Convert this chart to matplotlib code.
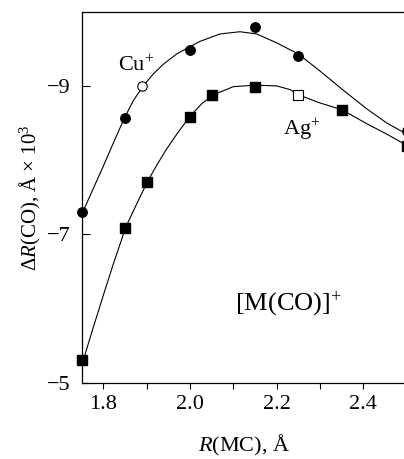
import matplotlib
matplotlib.use("Agg")
import matplotlib.pyplot as plt
from matplotlib.ticker import MultipleLocator

###DATA: ------------------------------------------------------------------------------------------------------
# Cu+ : gefuellte Kreise + ein offener Kreis
cu_x = [1.75, 1.85, 2.00, 2.15, 2.25, 2.50]
cu_y = [-7.30, -8.57, -9.49, -9.79, -9.40, -8.39]
cu_open_x = [1.89]
cu_open_y = [-9.00]

# Ag+ : gefuellte Quadrate + ein offenes Quadrat
ag_x = [1.75, 1.85, 1.90, 2.00, 2.05, 2.15, 2.35, 2.50]
ag_y = [-5.31, -7.09, -7.70, -8.58, -8.88, -8.98, -8.68, -8.19]
ag_open_x = [2.25]
ag_open_y = [-8.88]

# angepasste Kurven
cu_curve_x = [1.754, 1.777, 1.80, 1.823, 1.848, 1.869, 1.892, 1.915, 1.938, 1.969, 2.00,
              2.023, 2.069, 2.115, 2.154, 2.20, 2.25, 2.30, 2.354, 2.408, 2.454, 2.50]
cu_curve_y = [-7.32, -7.62, -7.92, -8.23, -8.56, -8.80, -9.00, -9.16, -9.29, -9.43, -9.53,
              -9.60, -9.70, -9.73, -9.70, -9.58, -9.43, -9.20, -8.94, -8.69, -8.50, -8.35]
ag_curve_x = [1.754, 1.777, 1.80, 1.823, 1.852, 1.877, 1.90, 1.923, 1.946, 1.973, 2.00,
              2.027, 2.054, 2.10, 2.15, 2.20, 2.231, 2.25, 2.30, 2.35, 2.408, 2.454, 2.50]
ag_curve_y = [-5.31, -5.75, -6.18, -6.60, -7.10, -7.41, -7.69, -7.93, -8.15, -8.38, -8.59,
              -8.76, -8.88, -8.99, -9.01, -9.00, -8.95, -8.88, -8.77, -8.68, -8.49, -8.35, -8.20]

x_major = [1.8, 2.0, 2.2, 2.4]
x_labels = ["1.8", "2.0", "2.2", "2.4"]
y_ticks = [-9, -7, -5]
y_labels = ["\u22129", "\u22127", "\u22125"]

###STYLE: -----------------------------------------------------------------------------------------------------
plt.rcParams["font.family"] = ["Liberation Serif", "DejaVu Serif"]
plt.rcParams["mathtext.fontset"] = "custom"
plt.rcParams["mathtext.rm"] = "Liberation Serif"
plt.rcParams["mathtext.it"] = "Liberation Serif:italic"

###PLOT: ------------------------------------------------------------------------------------------------------
fig = plt.figure(figsize=(4.04, 4.59), dpi=100)
ax = fig.add_axes([0.2022, 0.1662, 0.8045, 0.8083])

lw = 0.8
ax.plot(cu_curve_x, cu_curve_y, color="black", lw=lw)
ax.plot(ag_curve_x, ag_curve_y, color="black", lw=lw)

ax.plot(cu_x, cu_y, "o", color="black", ms=6.8, clip_on=False)
ax.plot(cu_open_x, cu_open_y, "o", mfc="white", mec="black", mew=0.8, ms=6.8)
ax.plot(ag_x, ag_y, "s", color="black", ms=7, clip_on=False)
ax.plot(ag_open_x, ag_open_y, "s", mfc="white", mec="black", mew=0.8, ms=7)

ax.text(1.834, -9.27, "Cu$^{+}$", fontsize=16, ha="left", va="center")
ax.text(2.215, -8.41, "Ag$^{+}$", fontsize=16, ha="left", va="center")
ax.text(2.104, -6.07, "[M(CO)]$^{+}$", fontsize=19, ha="left", va="center")

ax.set_xlim(1.75, 2.5)
ax.set_ylim(-5, -10)

ax.set_xticks(x_major)
ax.set_xticklabels(x_labels)
ax.xaxis.set_minor_locator(MultipleLocator(0.1))
ax.set_yticks(y_ticks)
ax.set_yticklabels(y_labels)

ax.tick_params(axis="x", which="both", direction="out", length=4, width=0.8, labelsize=16, pad=5)
ax.tick_params(axis="y", which="both", direction="in", length=6, width=0.8, labelsize=16, pad=8)

for s in ax.spines.values():
    s.set_linewidth(0.9)

ax.set_xlabel("$\\mathit{R}$(MC), Å", fontsize=16)
ax.xaxis.set_label_coords(0.5, -0.136)
ax.set_ylabel("Δ$\\mathit{R}$(CO), Å × 10$^{3}$", fontsize=15)
ax.yaxis.set_label_coords(-0.12, 0.5)

fig.savefig("out.png", dpi=100)
